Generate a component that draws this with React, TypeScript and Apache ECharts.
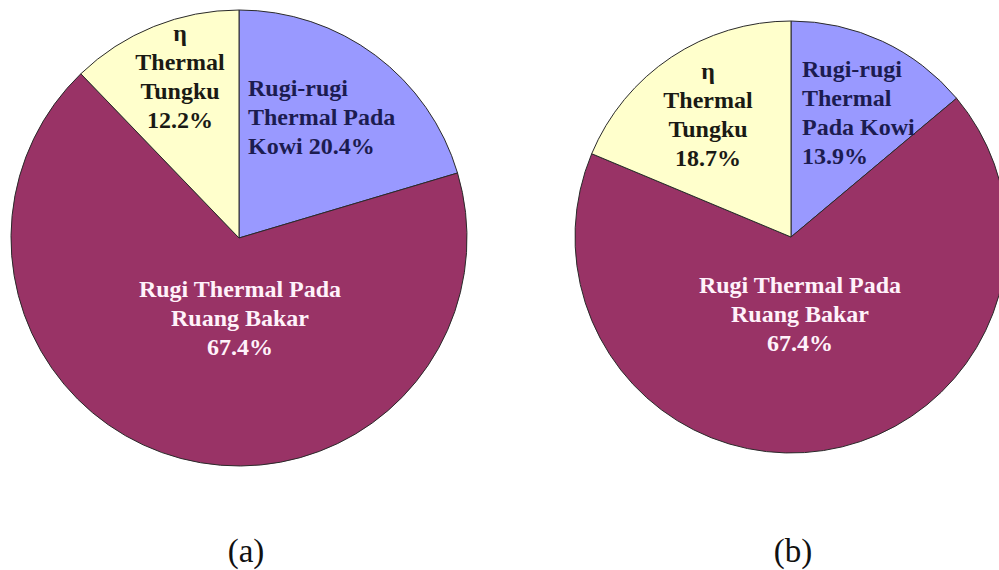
import React, { useEffect, useRef } from "react";
import * as echarts from "echarts";

// ---- data ----
const categories = ["Rugi-rugi Thermal Pada Kowi", "Rugi Thermal Pada Ruang Bakar", "η Thermal Tungku"];
const valuesA = [20.4, 67.4, 12.2];
const valuesB = [13.9, 67.4, 18.7];
const labelTemplatesA = ["Rugi-rugi\nThermal Pada\nKowi {d}%", "Rugi Thermal Pada\nRuang Bakar\n{d}%", "η\nThermal\nTungku\n{d}%"];
const labelTemplatesB = ["Rugi-rugi\nThermal\nPada Kowi\n{d}%", "Rugi Thermal Pada\nRuang Bakar\n{d}%", "η\nThermal\nTungku\n{d}%"];
const captions = ["(a)", "(b)"];

// ---- styles / layout ----
const SERIF = "Liberation Serif";
const sliceColors = ["#9999FF", "#993366", "#FFFFCC"];
const labelColors = ["#1c1c50", "#fff2fa", "#1a1a14"];
const labelAlign = ["left", "center", "center"];
const labelPosA = [[248, 117], [240, 318], [180, 76]];
const labelPosB = [[802, 112], [800, 314], [708, 114]];

function buildSeries(values: number[], templates: string[], center: number[], radius: number, pos: number[][]) {
  return {
    type: "pie",
    center,
    radius,
    startAngle: 90,
    clockwise: true,
    percentPrecision: 1,
    avoidLabelOverlap: false,
    labelLine: { show: false },
    itemStyle: { borderColor: "#2a2a2a", borderWidth: 1 },
    label: {
      show: true,
      position: "inside",
      fontFamily: SERIF,
      fontWeight: "bold",
      fontSize: 24,
      lineHeight: 29,
      formatter: (p: any) => templates[p.dataIndex].replace("{d}", String(p.percent)),
    },
    labelLayout: (p: any) => ({
      x: pos[p.dataIndex][0],
      y: pos[p.dataIndex][1],
      align: labelAlign[p.dataIndex],
      verticalAlign: "middle",
    }),
    data: values.map((v, i) => ({
      name: categories[i],
      value: v,
      itemStyle: { color: sliceColors[i] },
      label: { color: labelColors[i], align: labelAlign[i] },
    })),
  };
}

export default function App() {
  const ref = useRef<HTMLDivElement>(null);
  useEffect(() => {
    document.body.style.margin = "0";
    const chart = echarts.init(ref.current!, null, { renderer: "svg" });
    chart.setOption({
      animation: false,
      backgroundColor: "#ffffff",
      textStyle: { fontFamily: SERIF },
      series: [
        buildSeries(valuesA, labelTemplatesA, [239, 238], 228, labelPosA),
        buildSeries(valuesB, labelTemplatesB, [791, 237], 216, labelPosB),
      ],
      graphic: [
        {
          type: "text",
          x: 246,
          y: 551,
          style: { text: captions[0], fontFamily: SERIF, fontSize: 33, fill: "#111", align: "center", verticalAlign: "middle" },
        },
        {
          type: "text",
          x: 793,
          y: 551,
          style: { text: captions[1], fontFamily: SERIF, fontSize: 33, fill: "#111", align: "center", verticalAlign: "middle" },
        },
      ],
    });
    return () => chart.dispose();
  }, []);
  return <div ref={ref} style={{ position: "absolute", left: 0, top: 0, width: 999, height: 570 }} />;
}
